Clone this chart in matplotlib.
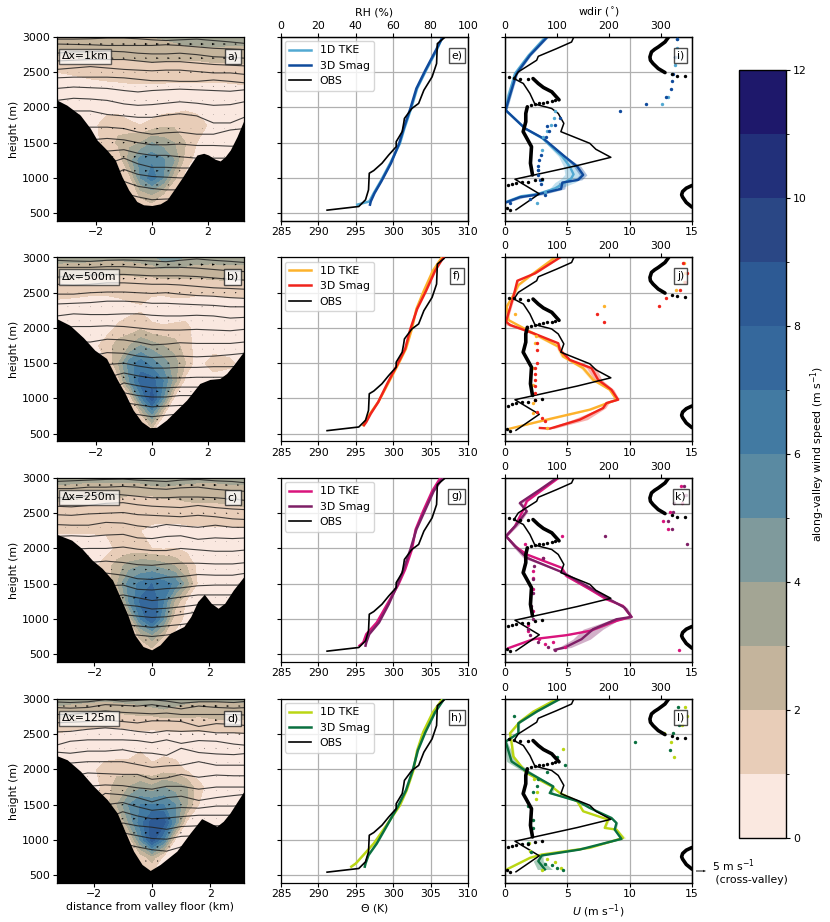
import numpy as np
import matplotlib
matplotlib.use("Agg")
import matplotlib.pyplot as plt
from matplotlib.colors import ListedColormap, BoundaryNorm

plt.rcParams['font.size'] = 7.8
plt.rcParams['axes.linewidth'] = 0.9
plt.rcParams['xtick.major.size'] = 3
plt.rcParams['ytick.major.size'] = 3
plt.rcParams['xtick.major.pad'] = 1.5
plt.rcParams['ytick.major.pad'] = 2

W, H = 830., 922.

# colour levels
levels = np.arange(0, 13)
level_colors = ['#fae8e0', '#e8cdb8', '#c4b49c', '#a3a594', '#7f9a9c', '#5a8aa2',
                '#427aa2', '#35689c', '#2d5a94', '#2a4785', '#22307a', '#1e186b']

# grid of the along-valley wind, read by eye
xs = [-3.4, -2.8, -2.2, -1.6, -1.2, -0.8, -0.4, 0, 0.4, 0.8, 1.2, 1.6, 2.2, 2.8, 3.3]
zs = [500, 750, 1000, 1250, 1500, 1750, 2000, 2250, 2500, 2750, 3000]

field_a = [
 [.5, .5, .5, .5, .5, .5, .8, .9, .7, .5, .5, .5, .5, .5, .5],
 [.5, .5, .5, .5, .5, 1.0, 2.2, 2.8, 1.8, .8, .5, .5, .5, .5, .5],
 [.5, .5, .5, .5, .5, 1.6, 5.0, 6.6, 5.0, 2.2, .6, .5, .5, .5, .5],
 [.5, .5, .5, .5, 1.2, 3.5, 5.5, 5.8, 5.2, 4.0, 1.5, .6, .5, .5, .5],
 [.5, .5, .5, 1.4, 2.2, 2.8, 3.0, 4.0, 3.5, 3.0, 2.0, 1.0, .5, .4, .4],
 [.4, .4, .5, 1.6, 1.7, 1.2, 1.0, 1.3, 1.8, 1.8, 1.8, 1.8, .5, .4, .4],
 [.4, .4, .4, .5, .5, .4, .4, .4, .5, .6, .8, .5, .4, .4, .4],
 [.5, .5, .5, .6, .6, .7, .7, .7, .7, .7, .7, .7, .6, .7, .8],
 [1.0, 1.1, 1.3, 1.4, 1.5, 1.5, 1.6, 1.6, 1.5, 1.4, 1.4, 1.4, 1.5, 1.5, 1.5],
 [2.0, 2.2, 2.2, 2.2, 2.2, 2.2, 2.2, 2.3, 2.3, 2.3, 2.3, 2.3, 2.4, 2.4, 2.5],
 [3.0, 3.0, 3.0, 2.9, 2.9, 2.9, 2.9, 3.0, 3.1, 3.3, 3.6, 3.7, 3.7, 3.6, 3.5]]
field_b = [
 [.5, .5, .5, .5, .5, .5, .8, .8, .8, .5, .5, .5, .5, .5, .5],
 [.5, .5, .5, .5, .5, .8, 1.5, 4.5, 1.0, .6, .5, .5, .5, .5, .5],
 [.5, .5, .5, .5, .5, 1.0, 5.5, 8.6, 5.0, .7, .5, .5, .5, .5, .5],
 [.5, .5, .5, .5, 1.5, 5.0, 7.5, 7.5, 6.0, 3.5, .6, .5, .5, .5, .5],
 [.5, .5, .5, 1.0, 3.0, 5.5, 6.5, 5.5, 4.5, 3.5, 2.0, .5, 1.5, 1.2, .5],
 [.5, .5, .5, 1.5, 2.5, 3.0, 4.0, 3.5, 3.0, 2.5, 1.5, .6, .5, .5, .5],
 [.4, .4, .5, .6, 1.2, 1.4, 1.8, 1.2, 1.1, 1.2, 1.3, .6, .5, .4, .4],
 [.5, .5, .5, .5, .5, .8, .9, .6, .5, .5, .5, .5, .5, .5, .5],
 [1.3, 1.2, 1.1, 1.1, 1.2, 1.2, 1.2, 1.1, 1.1, 1.2, 1.2, 1.1, 1.1, 1.2, 1.2],
 [2.2, 2.2, 2.1, 2.1, 2.0, 2.0, 2.1, 2.1, 2.2, 2.2, 2.2, 2.2, 2.3, 2.4, 2.4],
 [3.4, 3.3, 3.3, 3.2, 3.2, 3.3, 3.4, 3.6, 4.5, 4.5, 3.8, 3.5, 3.4, 3.4, 3.4]]
field_c = [
 [.5, .5, .5, .5, .5, .5, 1.0, 1.2, .9, .5, .5, .5, .5, .5, .5],
 [.5, .5, .5, .5, .5, 1.0, 2.2, 3.5, 2.0, .9, .5, .5, .5, .5, .5],
 [.5, .5, .5, .5, .5, 2.0, 6.0, 8.0, 5.0, 1.2, .9, .5, .5, .5, .5],
 [.5, .5, .5, .5, 1.0, 5.0, 7.2, 8.0, 6.0, 2.8, .8, .7, .5, .5, .5],
 [.5, .5, .5, .8, 3.0, 5.5, 6.2, 7.0, 6.5, 5.8, 3.5, .8, 1.0, .8, .5],
 [.5, .5, .5, 1.5, 2.5, 3.5, 4.0, 4.0, 3.5, 3.0, 2.0, .7, .5, .5, .5],
 [.4, .4, .5, .6, 1.2, 1.3, 1.2, 1.0, .9, 1.0, .7, .6, .5, .5, .5],
 [1.1, 1.1, 1.1, 1.1, 1.1, 1.0, 1.0, .7, .6, .6, .7, .7, .8, .8, .8],
 [1.5, 1.4, 1.4, 1.4, 1.4, 1.4, 1.5, 1.5, 1.5, 1.5, 1.6, 1.7, 1.7, 1.7, 1.8],
 [2.3, 2.2, 2.1, 2.1, 2.1, 2.0, 2.0, 2.0, 2.1, 2.1, 2.2, 2.2, 2.2, 2.3, 2.4],
 [3.5, 3.4, 3.3, 3.3, 3.3, 3.3, 3.4, 3.7, 3.8, 3.6, 3.4, 3.3, 3.3, 3.4, 3.4]]
field_d = [
 [.5, .5, .5, .5, .5, .5, .6, .8, .5, .5, .5, .5, .5, .5, .5],
 [.5, .5, .5, .5, .5, .6, 1.2, 2.5, .7, .5, .5, .5, .5, .5, .5],
 [.5, .5, .5, .5, .5, 1.2, 5.0, 8.5, 6.0, .8, .5, .5, .5, .5, .5],
 [.5, .5, .5, .5, 1.0, 4.0, 6.5, 8.5, 8.5, 5.0, .8, .6, .5, .5, .5],
 [.5, .5, .5, 1.5, 3.0, 5.0, 6.0, 6.0, 6.0, 5.0, 3.0, 1.0, .5, .5, .5],
 [.5, .5, .5, 1.2, 2.6, 3.0, 3.8, 3.2, 4.0, 3.5, 3.0, 1.2, .5, .5, .5],
 [.4, .4, .5, 1.5, 1.6, 1.5, 1.3, 1.2, 1.5, 1.5, .8, .6, .5, .4, .4],
 [.4, .4, .4, .4, .5, .6, 1.0, .7, .8, .6, .5, .5, .4, .4, .4],
 [1.0, .7, .6, .6, .6, .6, .8, .7, .7, .8, .8, .8, .8, .9, 1.0],
 [2.2, 2.0, 1.8, 1.6, 1.7, 1.8, 1.9, 1.9, 2.1, 2.1, 2.1, 2.0, 2.2, 2.2, 2.2],
 [3.6, 3.4, 3.3, 3.2, 3.3, 3.4, 3.5, 3.9, 4.2, 3.6, 3.3, 3.2, 3.1, 3.2, 3.2]]

# potential temperature isolines, height at each iso_x
iso_x = [-3.4, -2.8, -2.2, -1.6, -1.0, -0.5, 0, 0.5, 1.0, 1.6, 2.2, 2.8, 3.3]
iso_a = [
 [2970, 2970, 2975, 2985, 2985, 2975, 2960, 2950, 2960, 2970, 2950, 2930, 2910],
 [2900, 2895, 2890, 2880, 2880, 2880, 2880, 2890, 2880, 2860, 2840, 2830, 2820],
 [2770, 2790, 2790, 2800, 2790, 2770, 2760, 2760, 2770, 2750, 2720, 2710, 2700],
 [2660, 2670, 2680, 2680, 2680, 2660, 2640, 2650, 2650, 2630, 2610, 2600, 2590],
 [2540, 2560, 2580, 2560, 2540, 2530, 2520, 2530, 2530, 2510, 2490, 2490, 2470],
 [2420, 2430, 2430, 2430, 2420, 2400, 2380, 2380, 2370, 2370, 2390, 2370, 2350],
 [2270, 2290, 2280, 2270, 2240, 2220, 2240, 2250, 2260, 2250, 2240, 2230, 2250],
 [2100, 2130, 2120, 2100, 2050, 2030, 2040, 2060, 2080, 2060, 2030, 2040, 2080],
 [1900, 1950, 1950, 1900, 1880, 1860, 1860, 1890, 1910, 1880, 1780, 1780, 1860],
 [1700, 1700, 1720, 1720, 1700, 1650, 1620, 1640, 1650, 1620, 1620, 1680, 1700],
 [1500, 1520, 1540, 1560, 1540, 1500, 1470, 1470, 1480, 1460, 1460, 1450, 1450],
 [1300, 1300, 1320, 1380, 1400, 1350, 1320, 1320, 1300, 1280, 1280, 1280, 1300],
 [1100, 1100, 1120, 1200, 1280, 1200, 1150, 1150, 1140, 1140, 1140, 1140, 1140],
 [950, 950, 950, 1000, 1120, 1050, 1020, 1010, 1000, 1000, 1000, 1000, 1000],
 [800, 800, 800, 800, 950, 880, 850, 830, 830, 830, 830, 830, 830],
 [650, 650, 650, 650, 780, 730, 690, 700, 700, 700, 700, 700, 700]]
iso_b = [
 [2960, 2950, 2945, 2960, 2965, 2960, 2950, 2940, 2960, 2980, 2960, 2945, 2930],
 [2860, 2860, 2860, 2870, 2870, 2860, 2850, 2860, 2860, 2850, 2830, 2810, 2800],
 [2720, 2740, 2750, 2760, 2760, 2750, 2740, 2740, 2740, 2730, 2710, 2690, 2680],
 [2620, 2610, 2620, 2640, 2640, 2630, 2620, 2620, 2610, 2590, 2570, 2560, 2550],
 [2480, 2480, 2500, 2510, 2510, 2500, 2490, 2500, 2480, 2460, 2450, 2430, 2420],
 [2340, 2350, 2360, 2380, 2380, 2370, 2350, 2350, 2340, 2330, 2320, 2300, 2300],
 [2170, 2200, 2190, 2190, 2200, 2200, 2180, 2170, 2170, 2180, 2170, 2140, 2150],
 [2000, 2020, 2020, 2030, 2020, 2000, 1980, 1970, 1970, 1980, 1970, 1960, 1980],
 [1800, 1800, 1800, 1840, 1830, 1800, 1760, 1770, 1790, 1780, 1780, 1780, 1800],
 [1600, 1600, 1600, 1650, 1640, 1600, 1580, 1590, 1600, 1590, 1600, 1620, 1640],
 [1400, 1400, 1400, 1480, 1500, 1460, 1430, 1430, 1440, 1440, 1450, 1450, 1460],
 [1200, 1200, 1200, 1300, 1360, 1320, 1290, 1290, 1290, 1300, 1300, 1300, 1300],
 [1000, 1000, 1000, 1100, 1220, 1180, 1150, 1150, 1160, 1160, 1160, 1160, 1160],
 [850, 850, 850, 950, 1080, 1040, 1020, 1020, 1040, 1040, 1040, 1040, 1040],
 [700, 700, 700, 800, 940, 910, 880, 890, 900, 900, 900, 900, 900],
 [600, 600, 600, 650, 800, 770, 740, 760, 780, 780, 780, 780, 780]]
iso_c = [
 [2950, 2960, 2970, 2980, 2985, 2970, 2960, 2950, 2970, 2980, 2960, 2950, 2930],
 [2850, 2850, 2870, 2870, 2880, 2870, 2850, 2840, 2860, 2870, 2840, 2820, 2810],
 [2720, 2720, 2750, 2780, 2760, 2740, 2720, 2720, 2730, 2730, 2720, 2700, 2680],
 [2600, 2590, 2610, 2640, 2650, 2620, 2600, 2590, 2580, 2610, 2580, 2560, 2550],
 [2480, 2470, 2490, 2500, 2510, 2480, 2470, 2460, 2450, 2470, 2450, 2420, 2410],
 [2340, 2330, 2330, 2370, 2360, 2320, 2300, 2340, 2320, 2300, 2330, 2300, 2300],
 [2170, 2180, 2170, 2190, 2200, 2150, 2140, 2170, 2180, 2130, 2150, 2140, 2150],
 [1950, 1990, 2000, 2000, 2020, 1990, 1970, 1970, 2000, 1980, 1960, 1960, 1980],
 [1800, 1800, 1800, 1820, 1800, 1770, 1760, 1780, 1790, 1790, 1780, 1780, 1800],
 [1600, 1600, 1600, 1650, 1620, 1570, 1560, 1590, 1600, 1630, 1620, 1620, 1650],
 [1400, 1400, 1400, 1470, 1480, 1420, 1410, 1430, 1440, 1470, 1480, 1480, 1480],
 [1200, 1200, 1200, 1300, 1340, 1300, 1260, 1280, 1310, 1340, 1340, 1340, 1340],
 [1000, 1000, 1000, 1100, 1200, 1180, 1140, 1150, 1170, 1200, 1200, 1200, 1200],
 [850, 850, 850, 950, 1060, 1040, 1020, 1030, 1060, 1100, 1100, 1100, 1100],
 [700, 700, 700, 800, 920, 900, 880, 900, 920, 950, 950, 950, 950],
 [600, 600, 600, 650, 780, 770, 750, 770, 800, 820, 820, 820, 820]]
iso_d = [
 [2960, 2950, 2960, 2990, 2970, 2980, 2990, 2970, 2940, 2960, 2960, 2950, 2970],
 [2880, 2870, 2880, 2920, 2910, 2900, 2920, 2890, 2860, 2900, 2880, 2870, 2880],
 [2780, 2780, 2810, 2830, 2810, 2800, 2790, 2800, 2780, 2780, 2780, 2780, 2770],
 [2660, 2670, 2680, 2700, 2680, 2660, 2690, 2690, 2680, 2610, 2650, 2640, 2620],
 [2530, 2540, 2570, 2590, 2570, 2540, 2520, 2550, 2540, 2550, 2520, 2520, 2510],
 [2330, 2400, 2420, 2420, 2420, 2410, 2380, 2420, 2370, 2410, 2400, 2360, 2340],
 [2250, 2230, 2260, 2260, 2280, 2240, 2230, 2200, 2300, 2240, 2220, 2210, 2230],
 [2050, 2090, 2110, 2110, 2110, 2070, 2030, 2050, 2060, 2110, 2060, 2060, 2060],
 [1900, 1900, 1950, 1940, 1930, 1930, 1860, 1880, 1930, 1890, 1920, 1910, 1910],
 [1700, 1700, 1760, 1780, 1770, 1740, 1720, 1760, 1760, 1720, 1750, 1750, 1750],
 [1500, 1500, 1500, 1660, 1640, 1600, 1540, 1600, 1620, 1560, 1600, 1630, 1650],
 [1300, 1300, 1300, 1500, 1530, 1470, 1420, 1440, 1460, 1450, 1480, 1480, 1500],
 [1100, 1100, 1100, 1300, 1400, 1340, 1300, 1310, 1330, 1350, 1350, 1350, 1350],
 [950, 950, 950, 1100, 1240, 1200, 1180, 1150, 1190, 1200, 1200, 1200, 1200],
 [800, 800, 800, 950, 1100, 1060, 1020, 1010, 1050, 1060, 1060, 1060, 1060],
 [650, 650, 650, 800, 950, 900, 860, 840, 900, 900, 900, 900, 900]]

terrain_x_a = [-3.39, -3.04, -2.56, -2.2, -1.96, -1.61, -1.31, -1.07, -.83, -.54, -.3, 0, .3, .54, .83, 1.07, 1.37,
               1.61, 1.85, 2.02, 2.26, 2.44, 2.62, 2.8, 3.04, 3.29]
terrain_z_a = [2104, 2033, 1891, 1703, 1538, 1396, 1255, 1019, 830, 665, 618, 608, 632, 689, 854, 995, 1184,
               1325, 1349, 1325, 1264, 1241, 1302, 1396, 1585, 1821]
terrain_x_b = [-3.4, -2.93, -2.45, -2.04, -1.62, -1.26, -.96, -.67, -.37, -.07, .17, .52, .88, 1.24, 1.71, 2.07,
               2.43, 2.67, 2.96, 3.29]
terrain_z_b = [2132, 2038, 1863, 1684, 1566, 1283, 1071, 835, 670, 585, 590, 693, 835, 976, 1212, 1269,
               1283, 1354, 1495, 1670]
terrain_x_c = [-3.38, -2.79, -2.44, -2.08, -1.73, -1.37, -1.14, -.84, -.6, -.31, -.01, .28, .64, 1.11, 1.35, 1.59,
               1.82, 2.06, 2.3, 2.53, 2.83, 3.24]
terrain_z_c = [2212, 2118, 2000, 1835, 1717, 1552, 1340, 1057, 774, 608, 561, 632, 797, 892, 1033, 1245,
               1349, 1222, 1151, 1222, 1410, 1623]
terrain_x_d = [-3.4, -3.24, -2.9, -2.44, -1.99, -1.53, -1.19, -.85, -.63, -.34, -.06, .28, .85, 1.31, 1.7, 1.99,
               2.22, 2.44, 2.67, 3.13, 3.3]
terrain_z_d = [2200, 2193, 2137, 1972, 1759, 1571, 1382, 1052, 840, 651, 566, 651, 840, 1099, 1302, 1241,
               1193, 1264, 1382, 1679, 1780]

# cross-valley wind on a sparse grid, one table for all four sections
cross_x = [-3.0, -2.6, -2.2, -1.8, -1.4, -1.0, -0.6, -0.2, 0.2, 0.6, 1.0, 1.4, 1.8, 2.2, 2.6, 3.0]
cross_z = [700, 900, 1100, 1300, 1500, 1700, 1900, 2100, 2300, 2500, 2700, 2900]
cross_u = [
 [0, 0, 0, 0, 0, 0, .8, .8, .8, .5, 0, 0, 0, 0, 0, 0],
 [0, 0, 0, 0, 0, .8, .8, 1, 1, .8, .5, 0, 0, 0, 0, 0],
 [0, 0, 0, 0, 0, 1, 1, 1.2, 1.2, 1, .8, .5, 0, 0, 0, 0],
 [0, 0, 0, 0, .8, 1, 1.2, 1.2, 1.2, 1, .8, .5, .3, 0, 0, 0],
 [0, 0, 0, .5, .8, 1, 1.2, 1.2, 1.2, 1, .8, .5, .3, .3, .3, .3],
 [.2, .2, .3, .5, .6, .8, 1, 1, 1, .8, .6, .3, .2, .2, .3, .3],
 [.2, .2, .2, .2, .5, .6, .6, .8, .8, .6, .3, .2, .2, .2, .2, .2],
 [.2, .2, .2, .2, .2, .3, .5, .5, .5, .5, .3, .2, .2, .2, .2, .2],
 [.2, .2, .2, .2, .3, .3, .3, .5, .5, .3, .3, .3, .5, .5, .5, .5],
 [.3, .3, .3, .5, .5, .5, .5, .5, .5, .8, .8, .8, .8, .8, .8, .8],
 [.5, .8, .8, 1, 1, 1, 1, 1, 1.2, 1.2, 1.2, 1.2, 1.2, 1.2, 1.2, 1],
 [1, 1, 1.2, 1.2, 1.2, 1.2, 1.2, 1.5, 1.5, 1.5, 1.5, 1.5, 1.5, 1.5, 1.2, 1]]

# OBS
obs_theta = [291.16, 295.4, 296.3, 296.7, 296.8, 297.4, 298.5, 299.4, 300.4, 300.4, 301.2, 301.4, 301.5,
             302.5, 303.4, 304.1, 305.2, 305.8, 305.9, 306.8]
obs_theta_z = [542, 594, 689, 830, 1066, 1104, 1208, 1325, 1443, 1514, 1656, 1774, 1844,
               1986, 2057, 2245, 2434, 2623, 2906, 2986]
obs_u = [0.88, 2.75, 0.8, 5.79, 8.49, 7.29, 6.8, 4.48, 4.72, 4.27, 3.74, 2.4, 2.0, 1.47, 0.72, 1.07,
         2.54, 2.67, 4.14, 5.34, 5.52]
obs_u_z = [547, 774, 981, 1175, 1292, 1406, 1491, 1656, 1774, 1915, 1986, 2047, 2198, 2340, 2410, 2505,
           2670, 2726, 2835, 2929, 3000]
obs_dir_segments = [
 ([360, 349, 342, 340, 342, 349, 360], [585, 651, 726, 760, 807, 854, 892]),
 ([53, 49, 51, 35, 40, 40, 43], [1042, 1208, 1443, 1656, 1797, 1915, 2009]),
 ([104, 90, 74, 64, 54], [2108, 2222, 2283, 2340, 2410]),
 ([308, 295, 285, 280, 279, 282, 288, 295, 308, 315], [2495, 2552, 2623, 2670, 2717, 2788, 2825, 2858, 2929, 3000])]
obs_dir_dots = [3, 10, 6, 13, 21, 32, 45, 58, 72, 51, 58, 65, 74, 81, 90, 97, 45, 28, 17, 8, 347, 331, 321]
obs_dir_dots_z = [570, 538, 892, 915, 934, 948, 948, 971, 990, 2028, 2042, 2057, 2066, 2080, 2090, 2099,
                  2400, 2410, 2425, 2430, 2443, 2453, 2472]

# theta, model runs
theta_z = [620, 665, 783, 948, 1208, 1490, 1703, 1986, 2269, 2528, 2811, 3000]
theta_e_1d = [295.2, 296.8, 297.4, 298.3, 299.6, 300.9, 301.5, 302.4, 303.2, 304.4, 305.8, 306.6]
theta_e_3d = [296.9, 297.0, 297.5, 298.4, 299.7, 300.8, 301.4, 302.3, 303.1, 304.3, 305.7, 306.6]
theta_f_1d = [296.0, 296.2, 296.9, 298.0, 299.3, 300.7, 301.7, 302.5, 303.1, 304.1, 305.3, 306.5]
theta_f_3d = [296.1, 296.4, 297.0, 298.0, 299.2, 300.6, 301.6, 302.3, 303.2, 304.4, 305.6, 306.7]
theta_g_1d = [295.5, 296.0, 296.4, 297.8, 299.2, 300.7, 301.6, 302.5, 303.0, 304.0, 305.2, 306.3]
theta_g_3d = [296.3, 296.4, 296.8, 298.1, 299.4, 300.6, 301.4, 302.3, 303.1, 304.2, 305.4, 306.6]
theta_h_1d = [294.4, 295.0, 296.0, 297.4, 299.1, 300.9, 301.8, 302.7, 303.2, 304.0, 305.3, 306.6]
theta_h_3d = [296.2, 296.3, 296.7, 297.8, 299.2, 300.7, 301.7, 302.6, 303.3, 304.3, 305.6, 306.8]

# U, model runs (speed, height, ribbon half width)
u_i_1d = [0.1, 1.3, 2.6, 4.0, 4.8, 5.3, 5.5, 5.2, 4.6, 3.0, 1.6, 0.05, 0.3, 0.8, 1.9, 3.2]
z_i_1d = [660, 740, 770, 850, 934, 990, 1050, 1160, 1302, 1561, 1703, 1962, 2175, 2481, 2740, 2990]
s_i_1d = [.1, .1, .1, .4, .8, .8, .7, .5, .3, .1, .1, .1, .2, .1, .1, .1]
u_i_3d = [0.08, 1.2, 2.5, 4.5, 4.6, 5.87, 6.27, 5.8, 4.8, 3.07, 1.6, 0.05, 0.4, 0.93, 2.0, 3.34]
z_i_3d = [651, 726, 760, 844, 934, 972, 1042, 1160, 1302, 1561, 1703, 1962, 2175, 2481, 2740, 2990]
s_i_3d = [.1, .4, .5, .3, .3, .3, .3, .3, .1, .1, .1, .1, .1, .1, .1, .1]

u_j_1d = [0.4, 3.34, 6.8, 8.94, 8.4, 7.07, 6.27, 4.67, 4.27, 2.0, 0.27, 0.13, 0.67, 1.07, 2.27, 4.0]
z_j_1d = [571, 698, 840, 981, 1123, 1264, 1429, 1594, 1736, 1948, 2113, 2302, 2467, 2608, 2774, 3000]
s_j_1d = [.1, .3, .2, .1, .1, .2, .2, .2, .2, .3, .1, .1, .1, .1, .1, .1]
u_j_3d = [2.8, 3.6, 6.0, 7.87, 8.14, 9.07, 8.54, 7.47, 6.94, 5.2, 4.4, 4.27, 2.27, 0.4, 0.08, 0.67, 0.99, 2.4, 4.4]
z_j_3d = [580, 571, 698, 863, 934, 981, 1123, 1264, 1429, 1547, 1689, 1783, 1925, 2042, 2090, 2443, 2670, 2774, 3000]
s_j_3d = [.2, .3, .6, .2, .2, .1, .2, .3, .4, .1, .1, .1, .2, .3, .1, .1, .1, .1, .1]

u_k_1d = [0.27, 2.27, 4.94, 6.8, 8.94, 10.14, 9.47, 8.14, 6.8, 4.94, 4.54, 1.74, 0.8, 0.08, 0.8, 1.47, 1.74, 4.27]
z_k_1d = [585, 712, 769, 830, 972, 1028, 1184, 1278, 1420, 1608, 1726, 1915, 2033, 2175, 2316, 2552, 2670, 3000]
s_k_1d = [.1, .2, .2, .2, .1, .1, .1, .1, .1, .2, .1, .2, .1, .1, .1, .1, .1, .1]
u_k_3d = [3.98, 4.8, 6.14, 7.07, 8.94, 10.14, 9.6, 8.27, 6.8, 4.67, 1.74, 0.93, 0.08, 0.93, 1.74, 1.2, 2.8, 4.14]
z_k_3d = [561, 594, 712, 854, 995, 1028, 1160, 1288, 1443, 1656, 1868, 2009, 2175, 2340, 2528, 2646, 2835, 3000]
s_k_3d = [.1, .5, .7, .8, .3, .1, .2, .1, .1, .1, .3, .2, .1, .2, .1, .2, .2, .1]

u_l_1d = [0.13, 2.0, 2.94, 6.8, 9.47, 8.94, 8.0, 8.27, 6.27, 5.8, 4.4, 3.74, 1.74, 0.67, 0.53, 0.4, 1.2, 2.27, 4.0]
z_l_1d = [580, 745, 792, 887, 1028, 1146, 1170, 1288, 1406, 1547, 1665, 1759, 1948, 2184, 2373, 2514, 2679, 2821, 2986]
s_l_1d = [.1, .1, .1, .1, .2, .1, .1, .1, .1, .1, .1, .1, .1, .1, .1, .1, .1, .1, .1]
u_l_3d = [3.2, 2.67, 2.94, 6.0, 9.34, 8.8, 8.94, 8.54, 6.8, 5.87, 3.6, 3.87, 1.74, 0.53, 0.05, 1.07, 1.07, 2.54, 4.4]
z_l_3d = [580, 698, 778, 863, 1014, 1146, 1240, 1311, 1453, 1547, 1665, 1759, 1972, 2113, 2396, 2514, 2656, 2821, 3000]
s_l_3d = [.6, .4, .1, .1, .1, .1, .1, .1, .1, .1, .2, .1, .3, .4, .1, .1, .1, .1, .1]

# wind direction, model runs
dir_i_1d = [62, 77, 71, 64, 71, 74, 80, 88, 94, 96, 303, 313, 321, 328, 333, 332, 332]
dirz_i_1d = [642, 797, 972, 1113, 1396, 1575, 1665, 1750, 1854, 1948, 2047, 2151, 2481, 2599, 2717, 2844, 2967]
dir_i_3d = [10, 48, 77, 69, 67, 64, 63, 63, 66, 69, 79, 85, 80, 96, 106, 221, 272, 310, 319, 321, 324, 328, 331]
dirz_i_3d = [642, 698, 750, 910, 972, 1042, 1113, 1175, 1255, 1325, 1575, 1665, 1740, 1750, 1844, 1948, 2047, 2151,
             2259, 2373, 2481, 2717, 2967]
dir_j_1d = [80, 54, 53, 54, 54, 58, 60, 19, 191, 330, 345, 347, 344]
dirz_j_1d = [580, 792, 934, 1193, 1429, 1783, 1887, 2198, 2311, 2538, 2656, 2783, 2915]
dir_j_3d = [77, 71, 61, 58, 58, 58, 58, 58, 58, 61, 61, 61, 178, 191, 297, 310, 337, 347, 351, 342]
dirz_j_3d = [674, 722, 802, 981, 1075, 1170, 1264, 1344, 1429, 1509, 1689, 1783, 2198, 2090, 2311, 2420, 2538, 2656, 2783, 2915]
dir_k_1d = [335, 115, 93, 77, 66, 45, 45, 54, 54, 54, 54, 74, 38, 110, 313, 305, 317, 340, 346, 338]
dirz_k_1d = [561, 594, 675, 642, 712, 830, 910, 1113, 1420, 1585, 1679, 1868, 2066, 2175, 2283, 2396, 2519, 2646, 2764, 2892]
dir_k_3d = [96, 83, 64, 48, 45, 54, 51, 54, 54, 56, 74, 192, 350, 322, 314, 324, 325, 349, 345]
dirz_k_3d = [561, 594, 665, 774, 854, 995, 1184, 1373, 1561, 1750, 1868, 2175, 2066, 2283, 2396, 2519, 2646, 2764, 2892]
dir_l_1d = [71, 107, 96, 81, 49, 47, 51, 59, 62, 56, 111, 326, 319, 306, 341, 351, 346]
dirz_l_1d = [571, 604, 684, 731, 840, 958, 1288, 1580, 1675, 1863, 2288, 2170, 2396, 2524, 2632, 2759, 2892]
dir_l_3d = [111, 101, 90, 77, 51, 45, 54, 53, 44, 53, 62, 64, 80, 115, 101, 250, 317, 323, 335, 333, 18]
dirz_l_3d = [566, 594, 642, 651, 825, 958, 1170, 1288, 1486, 1675, 1759, 1863, 1958, 2066, 2170, 2396, 2278, 2524, 2632, 2892, 2759]

res_names = ['\u0394x=1km', '\u0394x=500m', '\u0394x=250m', '\u0394x=125m']
panel_left = ['a)', 'b)', 'c)', 'd)']
panel_mid = ['e)', 'f)', 'g)', 'h)']
panel_right = ['i)', 'j)', 'k)', 'l)']
colors_1d = ['#52a9d2', '#fdb22c', '#d9147c', '#bad614']
colors_3d = ['#0f4a9c', '#f0241c', '#7e1f66', '#0a7040']

fields = [field_a, field_b, field_c, field_d]
isos = [iso_a, iso_b, iso_c, iso_d]
terrains = [(terrain_x_a, terrain_z_a), (terrain_x_b, terrain_z_b), (terrain_x_c, terrain_z_c), (terrain_x_d, terrain_z_d)]
thetas = [(theta_e_1d, theta_e_3d), (theta_f_1d, theta_f_3d), (theta_g_1d, theta_g_3d), (theta_h_1d, theta_h_3d)]
winds = [(u_i_1d, z_i_1d, s_i_1d, u_i_3d, z_i_3d, s_i_3d), (u_j_1d, z_j_1d, s_j_1d, u_j_3d, z_j_3d, s_j_3d),
         (u_k_1d, z_k_1d, s_k_1d, u_k_3d, z_k_3d, s_k_3d), (u_l_1d, z_l_1d, s_l_1d, u_l_3d, z_l_3d, s_l_3d)]
dirs = [(dir_i_1d, dirz_i_1d, dir_i_3d, dirz_i_3d), (dir_j_1d, dirz_j_1d, dir_j_3d, dirz_j_3d),
        (dir_k_1d, dirz_k_1d, dir_k_3d, dirz_k_3d), (dir_l_1d, dirz_l_1d, dir_l_3d, dirz_l_3d)]
xlims = [(-3.39, 3.29), (-3.39, 3.29), (-3.3, 3.2), (-3.25, 3.15)]
row_tops = [37, 257.5, 478, 699]
row_h = 184
ZMIN = 388

cmap = ListedColormap(level_colors)
norm = BoundaryNorm(levels, cmap.N)

fig = plt.figure(figsize=(W / 100, H / 100), dpi=100)


def make_ax(x0, x1, top):
    return fig.add_axes([x0 / W, 1 - (top + row_h) / H, (x1 - x0) / W, row_h / H])


def tag(ax, txt, x=0.94, y=0.9):
    ax.text(x, y, txt, transform=ax.transAxes, ha='center', va='center', zorder=20,
            bbox=dict(boxstyle='square,pad=0.25', fc='white', ec='#222222', lw=1, alpha=0.8))


Q = None
for r in range(4):
    top = row_tops[r]

    # cross section
    ax = make_ax(57, 244, top)
    ax.contourf(xs, zs, np.array(fields[r]), levels=levels, cmap=cmap, norm=norm, zorder=1)
    for line in isos[r]:
        ax.plot(iso_x, line, color='#222222', lw=0.8, alpha=0.85, zorder=2)
    qx, qz = np.meshgrid(cross_x, cross_z)
    Q = ax.quiver(qx, qz, np.array(cross_u), np.zeros_like(qx), color='k', zorder=3,
                  scale=93.5, scale_units='width', units='width', width=0.005,
                  headwidth=2.5, headlength=3, headaxislength=3, minlength=0.6, pivot='mid')
    tx, tz = terrains[r]
    ax.fill_between(tx, tz, 0, color='k', zorder=5, lw=0)
    ax.set_xlim(*xlims[r])
    ax.set_ylim(ZMIN, 3000)
    ax.set_xticks([-2, 0, 2])
    ax.set_xticklabels(['\u22122', '0', '2'])
    ax.set_yticks([500, 1000, 1500, 2000, 2500, 3000])
    ax.set_ylabel('height (m)', labelpad=2)
    ax.text(0.025, 0.895, res_names[r], transform=ax.transAxes, ha='left', va='center', zorder=20,
            bbox=dict(boxstyle='square,pad=0.25', fc='white', ec='#222222', lw=1, alpha=0.7))
    tag(ax, panel_left[r], 0.94, 0.895)
    if r == 3:
        ax.set_xlabel('distance from valley floor (km)', labelpad=2)

    # theta
    ax = make_ax(281, 468, top)
    t1, t3 = thetas[r]
    ax.plot(t1, theta_z, color=colors_1d[r], lw=1.8, label='1D TKE', zorder=3)
    ax.plot(t3, theta_z, color=colors_3d[r], lw=1.8, label='3D Smag', zorder=3)
    ax.plot(obs_theta, obs_theta_z, color='k', lw=1.2, label='OBS', zorder=4)
    ax.set_xlim(285, 310)
    ax.set_ylim(ZMIN, 3000)
    ax.set_xticks([285, 290, 295, 300, 305, 310])
    ax.set_yticks([500, 1000, 1500, 2000, 2500, 3000])
    ax.set_yticklabels([])
    ax.grid(True, color='#b0b0b0', lw=0.9)
    ax.set_axisbelow(True)
    ax.legend(loc='upper left', fontsize=7.8, bbox_to_anchor=(0.01, 0.99), borderaxespad=0.2)
    tag(ax, panel_mid[r], 0.94, 0.9)
    if r == 3:
        ax.set_xlabel(r'$\Theta$ (K)', labelpad=2)
    if r == 0:
        top_ax = ax.twiny()
        top_ax.set_xlim(0, 100)
        top_ax.set_xticks([0, 20, 40, 60, 80, 100])
        top_ax.set_xlabel('RH (%)', labelpad=3.5)

    # along-valley speed and direction
    ax = make_ax(505, 692, top)
    u1, z1, s1, u3, z3, s3 = winds[r]
    u1, z1, s1, u3, z3, s3 = map(np.array, (u1, z1, s1, u3, z3, s3))
    ax.fill_betweenx(z1, u1 - s1, u1 + s1, color=colors_1d[r], alpha=0.35, lw=0, zorder=2)
    ax.fill_betweenx(z3, u3 - s3, u3 + s3, color=colors_3d[r], alpha=0.35, lw=0, zorder=2)
    ax.plot(u1, z1, color=colors_1d[r], lw=1.7, zorder=3)
    ax.plot(u3, z3, color=colors_3d[r], lw=1.7, zorder=3)
    ax.plot(obs_u, obs_u_z, color='k', lw=1.1, zorder=4)
    ax.set_xlim(0, 15)
    ax.set_ylim(ZMIN, 3000)
    ax.set_xticks([0, 5, 10, 15])
    ax.set_yticks([500, 1000, 1500, 2000, 2500, 3000])
    ax.set_yticklabels([])
    ax.grid(True, color='#b0b0b0', lw=0.9)
    ax.set_axisbelow(True)
    if r == 3:
        ax.set_xlabel(r'$U$ (m s$^{-1}$)', labelpad=2)

    top_ax = ax.twiny()
    top_ax.set_xlim(0, 360)
    top_ax.set_ylim(ZMIN, 3000)
    top_ax.set_xticks([0, 100, 200, 300])
    d1, dz1, d3, dz3 = dirs[r]
    top_ax.scatter(d1, dz1, s=6, color=colors_1d[r], lw=0, zorder=5)
    top_ax.scatter(d3, dz3, s=6, color=colors_3d[r], lw=0, zorder=5)
    for seg_d, seg_z in obs_dir_segments:
        top_ax.plot(seg_d, seg_z, color='k', lw=2.6, zorder=6, solid_capstyle='round')
    top_ax.scatter(obs_dir_dots, obs_dir_dots_z, s=6, color='k', lw=0, zorder=6)
    tag(top_ax, panel_right[r], 0.94, 0.9)
    if r == 0:
        top_ax.set_xlabel('wdir ($^{\\circ}$)', labelpad=3.5)

# arrow key
Q.axes.quiverkey(Q, 706 / W, 1 - 871 / H, 5, '5 m s$^{-1}$\n (cross-valley)', labelpos='E',
                 coordinates='figure', labelsep=0.06, fontproperties={'size': 7.8})

# colour bar
cax = fig.add_axes([739 / W, 1 - 838 / H, 47 / W, 768 / H])
sm = plt.cm.ScalarMappable(cmap=cmap, norm=norm)
cb = fig.colorbar(sm, cax=cax, ticks=[0, 2, 4, 6, 8, 10, 12], spacing='proportional')
cb.set_label('along-valley wind speed (m s$^{-1}$)', labelpad=1)
cb.outline.set_linewidth(1.0)

fig.savefig('out.png', dpi=100)
